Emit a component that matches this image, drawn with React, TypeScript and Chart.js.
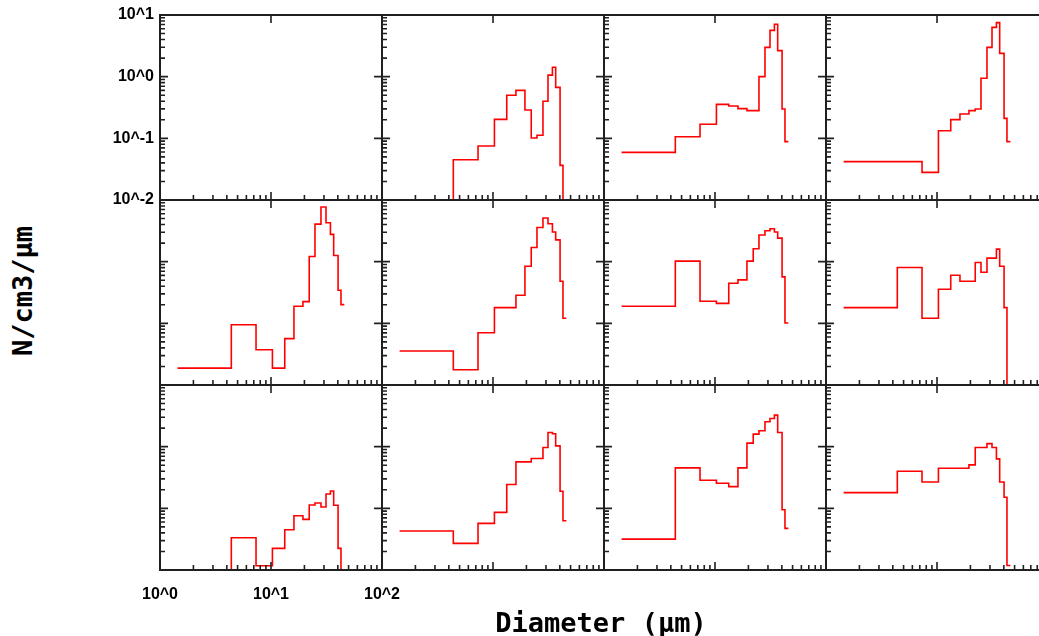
import React, { useEffect, useRef } from "react";
import { Chart, registerables } from "chart.js";

Chart.register(...registerables);

// ---------- data ----------
const DIAMETER_EDGES = [1.44, 4.39, 7.33, 10.3, 13.3, 16.1, 19.4, 22.1, 24.9, 28.2, 31.3, 34.3, 36.7, 40.2, 42.7, 45.8];
const BELOW = 1e-4; // below the plotted range

const P1: number[] = [];
const P2 = [BELOW, 0.045, 0.075, 0.203, 0.5, 0.6, 0.288, 0.101, 0.112, 0.4, 1.06, 1.42, 0.67, 0.0365, BELOW];
const P3 = [0.0593, 0.106, 0.169, 0.356, 0.334, 0.303, 0.281, 0.281, 1.0, 2.99, 5.64, 7.06, 2.64, 0.299, 0.0883];
const P4 = [0.0419, 0.0419, 0.0281, 0.133, 0.201, 0.248, 0.281, 0.299, 0.94, 2.99, 6.31, 7.51, 2.39, 0.211, 0.0883];
const P5 = [0.0188, 0.095, 0.0373, 0.0188, 0.0564, 0.189, 0.225, 1.21, 4.07, 7.69, 4.28, 2.77, 1.26, 0.344, 0.201];
const P6 = [0.0355, 0.0177, 0.0705, 0.18, 0.18, 0.285, 0.845, 1.7, 3.59, 5.1, 4.12, 3.02, 2.26, 0.482, 0.121];
const P7 = [0.189, 1.02, 0.228, 0.211, 0.447, 0.507, 1.02, 1.62, 2.7, 3.17, 3.42, 3.02, 2.41, 0.566, 0.101];
const P8 = [0.18, 0.804, 0.121, 0.357, 0.603, 0.482, 0.482, 0.968, 0.675, 1.14, 1.14, 1.6, 0.845, 0.18, BELOW];
const P9 = [BELOW, 0.0333, 0.0117, 0.0224, 0.045, 0.076, 0.0662, 0.113, 0.122, 0.105, 0.171, 0.191, 0.112, 0.0224, BELOW];
const P10 = [0.0428, 0.027, 0.057, 0.0861, 0.243, 0.566, 0.566, 0.643, 0.643, 0.968, 1.7, 1.62, 1.03, 0.189, 0.063];
const P11 = [0.0317, 0.453, 0.285, 0.255, 0.225, 0.453, 1.14, 1.6, 1.81, 2.53, 2.87, 3.25, 1.7, 0.095, 0.0473];
const P12 = [0.18, 0.4, 0.268, 0.447, 0.447, 0.447, 0.507, 0.968, 0.968, 1.12, 0.968, 0.634, 0.268, 0.151, 0.0118];

const PANELS = [P1, P2, P3, P4, P5, P6, P7, P8, P9, P10, P11, P12];

const X_DECADES = [1, 10, 100];
const X_TICK_LABELS = ["10^0", "10^1", "10^2"];
const Y_DECADES = [0.01, 0.1, 1, 10];
const Y_TICK_LABELS = ["10^-2", "10^-1", "10^0", "10^1"];

const X_TITLE = "Diameter (µm)";
const Y_TITLE = "N/cm3/µm";

// ---------- layout ----------
const COL_LEFT = [160, 382, 604, 826];
const ROW_TOP = [15, 200, 385];
const PW = 222;
const PH = 185;
const M = 60;

const FRAME = "#202020";
const LABEL_FONT = { family: "'Liberation Sans', Arial, sans-serif", weight: "bold" as const, size: 16 };

const framePlugin = {
  id: "panelFrame",
  afterDatasetsDraw(chart: any) {
    const { ctx, chartArea: a, scales } = chart;
    const xs = scales.x;
    const ys = scales.y;
    ctx.save();
    ctx.strokeStyle = FRAME;
    ctx.lineWidth = 1.6;
    ctx.beginPath();
    for (const d of [1, 10]) {
      for (let k = 2; k <= 9; k++) {
        const px = xs.getPixelForValue(k * d);
        ctx.moveTo(px, a.bottom);
        ctx.lineTo(px, a.bottom - 5);
      }
    }
    const xm = xs.getPixelForValue(10);
    ctx.moveTo(xm, a.bottom);
    ctx.lineTo(xm, a.bottom - 8);
    ctx.moveTo(xm, a.top);
    ctx.lineTo(xm, a.top + 8);
    for (const d of [0.01, 0.1, 1]) {
      for (let k = 2; k <= 9; k++) {
        const py = ys.getPixelForValue(k * d);
        ctx.moveTo(a.left, py);
        ctx.lineTo(a.left + 5, py);
      }
    }
    for (const v of [0.1, 1]) {
      const py = ys.getPixelForValue(v);
      ctx.moveTo(a.left, py);
      ctx.lineTo(a.left + 8, py);
      ctx.moveTo(a.right, py);
      ctx.lineTo(a.right - 8, py);
    }
    ctx.stroke();
    ctx.lineWidth = 2;
    ctx.strokeRect(a.left, a.top, a.right - a.left, a.bottom - a.top);
    ctx.restore();
  },
};

function makeConfig(values: number[], showY: boolean, showX: boolean): any {
  const pts = values.length
    ? [...values.map((v, i) => ({ x: DIAMETER_EDGES[i], y: v })), { x: DIAMETER_EDGES[values.length], y: values[values.length - 1] }]
    : [];
  return {
    type: "line",
    data: {
      datasets: [
        {
          data: pts,
          borderColor: "rgb(255,0,0)",
          borderWidth: 1.6,
          pointRadius: 0,
          stepped: "before",
          fill: false,
          tension: 0,
        },
      ],
    },
    options: {
      responsive: false,
      animation: false,
      events: [],
      layout: { padding: { left: showY ? 0 : M, right: M, top: M, bottom: showX ? 0 : M } },
      plugins: { legend: { display: false }, tooltip: { enabled: false }, title: { display: false } },
      scales: {
        x: {
          type: "logarithmic",
          min: 1,
          max: 100,
          display: showX,
          afterFit: (s: any) => {
            s.height = showX ? M : 0;
          },
          afterBuildTicks: (s: any) => {
            s.ticks = X_DECADES.map((v) => ({ value: v }));
          },
          grid: { display: false, drawTicks: false },
          border: { display: false },
          ticks: {
            autoSkip: false,
            maxRotation: 0,
            padding: 15,
            color: "#000",
            font: LABEL_FONT,
            callback: (v: number) => {
              const i = X_DECADES.findIndex((d) => Math.abs(d - v) < 1e-9 * d);
              return i >= 0 ? X_TICK_LABELS[i] : "";
            },
          },
        },
        y: {
          type: "logarithmic",
          min: 0.01,
          max: 10,
          display: showY,
          afterFit: (s: any) => {
            s.width = showY ? M : 0;
          },
          afterBuildTicks: (s: any) => {
            s.ticks = Y_DECADES.map((v) => ({ value: v }));
          },
          grid: { display: false, drawTicks: false },
          border: { display: false },
          ticks: {
            autoSkip: false,
            padding: 6,
            color: "#000",
            font: LABEL_FONT,
            callback: (v: number) => {
              const i = Y_DECADES.findIndex((d) => Math.abs(d - v) < 1e-9 * d);
              return i >= 0 ? Y_TICK_LABELS[i] : "";
            },
          },
        },
      },
    },
    plugins: [framePlugin],
  };
}

function Panel({ idx }: { idx: number }) {
  const ref = useRef<HTMLCanvasElement>(null);
  const r = Math.floor(idx / 4);
  const c = idx % 4;
  useEffect(() => {
    if (!ref.current) return;
    const chart = new Chart(ref.current, makeConfig(PANELS[idx], idx === 0, idx === 8));
    return () => chart.destroy();
  }, [idx]);
  return (
    <canvas
      ref={ref}
      width={PW + 2 * M}
      height={PH + 2 * M}
      style={{ position: "absolute", left: COL_LEFT[c] - M, top: ROW_TOP[r] - M, width: PW + 2 * M, height: PH + 2 * M }}
    />
  );
}

export default function App() {
  return (
    <div style={{ position: "absolute", left: 0, top: 0, width: 1039, height: 636, overflow: "hidden", background: "#fff" }}>
      {PANELS.map((_, i) => (
        <Panel key={i} idx={i} />
      ))}
      <div
        style={{
          position: "absolute",
          left: 22,
          top: 291,
          transform: "translate(-50%, -50%) rotate(-90deg)",
          whiteSpace: "nowrap",
          fontFamily: "'DejaVu Sans Mono', monospace",
          fontWeight: "bold",
          fontSize: 27,
          lineHeight: 1,
          color: "#000",
        }}
      >
        {Y_TITLE}
      </div>
      <div
        style={{
          position: "absolute",
          left: 601,
          top: 622,
          transform: "translate(-50%, -50%)",
          whiteSpace: "pre",
          fontFamily: "'DejaVu Sans Mono', monospace",
          fontWeight: "bold",
          fontSize: 27,
          lineHeight: 1,
          color: "#000",
        }}
      >
        {X_TITLE}
      </div>
    </div>
  );
}
